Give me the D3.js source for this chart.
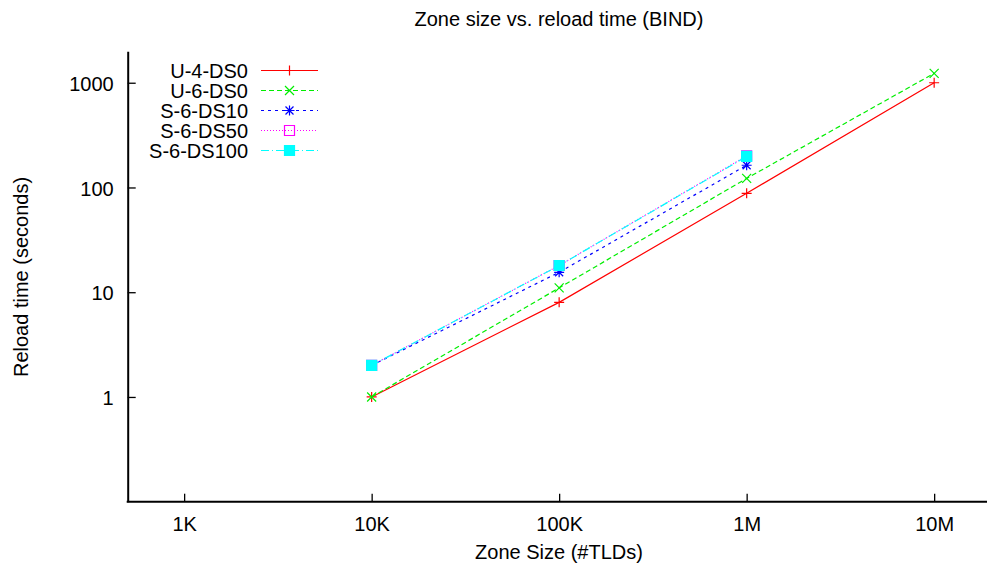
<!DOCTYPE html>
<html>
<head>
<meta charset="utf-8">
<script src="https://cdn.jsdelivr.net/npm/d3@7"></script>
<style>
  html, body { margin: 0; padding: 0; background: #fff; }
  svg { display: block; }
  text { font-family: "Liberation Sans", Arial, Helvetica, sans-serif; font-size: 20px; fill: #000; }
</style>
</head>
<body>
<div id="chart"></div>
<script>
// Zone sizes (number of TLDs) on the x axis
const zoneSizes = [1e4, 1e5, 1e6, 1e7];

// Reload times in seconds for each configuration
const u4ds0   = [1, 8, 88, 1000];
const u6ds0   = [1, 11, 122, 1230];
const s6ds10  = [2, 15.5, 163];
const s6ds50  = [2, 18, 200];
const s6ds100 = [2, 18, 198];

const seriesNames = ["U-4-DS0", "U-6-DS0", "S-6-DS10", "S-6-DS50", "S-6-DS100"];

// Tick values and labels
const xTickValues = [1e3, 1e4, 1e5, 1e6, 1e7];
const xTickLabels = ["1K", "10K", "100K", "1M", "10M"];
const yTickValues = [1, 10, 100, 1000];
const yTickLabels = ["1", "10", "100", "1000"];

const W = 987, H = 569;
const plotLeft = 127.7, plotBottom = 501.7, plotTop = 51.2, plotRight = 990.6;

const svg = d3.select("#chart").append("svg").attr("width", W).attr("height", H);

const x = d3.scaleLog().domain([500, 2e7]).range([plotLeft, plotRight]);
const y = d3.scaleLog().domain([0.1, 2000]).range([plotBottom, plotTop]);

// Axes: ticks point into the plot area
const xAxis = d3.axisBottom(x)
  .tickValues(xTickValues)
  .tickFormat((d, i) => xTickLabels[i])
  .tickSizeInner(-8).tickSizeOuter(0).tickPadding(15);
const yAxis = d3.axisLeft(y)
  .tickValues(yTickValues)
  .tickFormat((d, i) => yTickLabels[i])
  .tickSizeInner(-8).tickSizeOuter(0).tickPadding(14);

const gx = svg.append("g").attr("transform", `translate(0,${plotBottom})`).call(xAxis);
const gy = svg.append("g").attr("transform", `translate(${plotLeft},0)`).call(yAxis);
[gx, gy].forEach(g => {
  g.attr("font-family", null).attr("font-size", null);
  g.select(".domain").attr("stroke", "#000").attr("stroke-width", 2);
  g.selectAll(".tick line").attr("stroke", "#000").attr("stroke-width", 1.3);
});
gy.selectAll(".tick text").attr("dy", "0.38em");
gx.select(".domain").attr("d", `M${plotLeft - 1},0H${W}`);

// Titles
svg.append("text").attr("x", 559).attr("y", 26).attr("text-anchor", "middle")
  .text("Zone size vs. reload time (BIND)");
svg.append("text").attr("x", 559).attr("y", 559).attr("text-anchor", "middle")
  .text("Zone Size (#TLDs)");
svg.append("text").attr("transform", "translate(28,277) rotate(-90)").attr("text-anchor", "middle")
  .text("Reload time (seconds)");

// Point marker shapes
function markerPath(type) {
  switch (type) {
    case "plus":  return "M-5,0H5M0,-5V5";
    case "cross": return "M-4.5,-4.5L4.5,4.5M-4.5,4.5L4.5,-4.5";
    case "star":  return "M-5,0H5M0,-5V5M-4,-4L4,4M-4,4L4,-4";
    case "box":   return "M-5,-5H5V5H-5Z";
    case "fbox":  return "M-5,-5H5V5H-5Z";
  }
}

const series = [
  { name: seriesNames[0], values: u4ds0,   color: "#ff0000", dash: null,      marker: "plus" },
  { name: seriesNames[1], values: u6ds0,   color: "#00ee00", dash: "5,3",     marker: "cross" },
  { name: seriesNames[2], values: s6ds10,  color: "#0000ff", dash: "3,4",     marker: "star" },
  { name: seriesNames[3], values: s6ds50,  color: "#ff00ff", dash: "1,2",     marker: "box" },
  { name: seriesNames[4], values: s6ds100, color: "#00ffff", dash: "8,3,1,3", marker: "fbox" }
];

const line = d3.line().x(d => x(d[0])).y(d => y(d[1]));

function drawMarker(g, s, px, py) {
  const m = g.append("path").attr("d", markerPath(s.marker))
    .attr("transform", `translate(${px},${py})`)
    .attr("stroke", s.color).attr("stroke-width", 1.2);
  if (s.marker === "fbox") m.attr("fill", s.color);
  else m.attr("fill", "none");
}

const plot = svg.append("g");
series.forEach(s => {
  const pts = s.values.map((v, i) => [zoneSizes[i], v]);
  const path = plot.append("path").datum(pts).attr("d", line)
    .attr("fill", "none").attr("stroke", s.color).attr("stroke-width", 1.2);
  if (s.dash) path.attr("stroke-dasharray", s.dash);
  pts.forEach(p => drawMarker(plot, s, x(p[0]), y(p[1])));
});

// Legend
const legend = svg.append("g");
series.forEach((s, i) => {
  const cy = 70.5 + i * 20;
  legend.append("text").attr("x", 248).attr("y", cy + 7).attr("text-anchor", "end").text(s.name);
  const l = legend.append("line").attr("x1", 261).attr("x2", 318).attr("y1", cy).attr("y2", cy)
    .attr("stroke", s.color).attr("stroke-width", 1.2);
  if (s.dash) l.attr("stroke-dasharray", s.dash);
  drawMarker(legend, s, 289.5, cy);
});
</script>
</body>
</html>
